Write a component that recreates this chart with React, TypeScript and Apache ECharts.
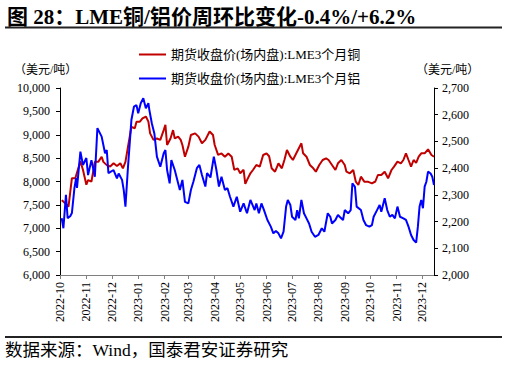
import React, { useEffect, useRef } from "react";
import * as echarts from "echarts";

const titleText = "图 28：LME铜/铝价周环比变化-0.4%/+6.2%";
const sourceText = "数据来源：Wind，国泰君安证券研究";
const unitText = "（美元/吨）";
const copperName = "期货收盘价(场内盘):LME3个月铜";
const aluminumName = "期货收盘价(场内盘):LME3个月铝";

const axisStart = "2022-10-01";
const axisEnd = "2023-12-15";

const copperDates = [
  "2022-10-03", "2022-10-05", "2022-10-11", "2022-10-15", "2022-10-19", "2022-10-25", "2022-10-28",
  "2022-11-01", "2022-11-03", "2022-11-07", "2022-11-11", "2022-11-15", "2022-11-19", "2022-11-21",
  "2022-11-25", "2022-11-29", "2022-12-03", "2022-12-07", "2022-12-11", "2022-12-14", "2022-12-17",
  "2022-12-20", "2022-12-24", "2022-12-28", "2022-12-30", "2023-01-03", "2023-01-06", "2023-01-10",
  "2023-01-13", "2023-01-15", "2023-01-19", "2023-01-23", "2023-01-27", "2023-01-31", "2023-02-02",
  "2023-02-04", "2023-02-08", "2023-02-11", "2023-02-13", "2023-02-17", "2023-02-20", "2023-02-22",
  "2023-02-25", "2023-03-01", "2023-03-04", "2023-03-09", "2023-03-13", "2023-03-17", "2023-03-21",
  "2023-03-26", "2023-03-30", "2023-04-01", "2023-04-05", "2023-04-09", "2023-04-13", "2023-04-17",
  "2023-04-21", "2023-04-24", "2023-04-28", "2023-05-01", "2023-05-05", "2023-05-07", "2023-05-09",
  "2023-05-13", "2023-05-16", "2023-05-20", "2023-05-24", "2023-05-28", "2023-06-01", "2023-06-04",
  "2023-06-07", "2023-06-11", "2023-06-15", "2023-06-19", "2023-06-22", "2023-06-25", "2023-06-29",
  "2023-07-02", "2023-07-06", "2023-07-09", "2023-07-12", "2023-07-14", "2023-07-18", "2023-07-22",
  "2023-07-26", "2023-07-29", "2023-08-02", "2023-08-06", "2023-08-10", "2023-08-13", "2023-08-17",
  "2023-08-21", "2023-08-24", "2023-08-28", "2023-09-01", "2023-09-03", "2023-09-07", "2023-09-11",
  "2023-09-14", "2023-09-17", "2023-09-20", "2023-09-24", "2023-09-28", "2023-10-03", "2023-10-07",
  "2023-10-10", "2023-10-14", "2023-10-18", "2023-10-22", "2023-10-26", "2023-10-29", "2023-11-02",
  "2023-11-06", "2023-11-09", "2023-11-12", "2023-11-15", "2023-11-18", "2023-11-21", "2023-11-24",
  "2023-11-27", "2023-11-30", "2023-12-04", "2023-12-08", "2023-12-12", "2023-12-15",
];
const copperValues = [
  7600, 7570, 7460, 8070, 8070, 8430, 8250,
  7930, 8030, 8000, 8420, 8420, 8530, 8420,
  8350, 8320, 8390, 8330, 8390, 8280, 8420,
  8745, 9170, 9140, 9280, 9280, 9350, 9390,
  9280, 9030, 8890, 8920, 8890, 9100, 9210,
  8780, 8920, 9100, 8920, 8960, 8890, 8780,
  8530, 8745, 8995, 9030, 8960, 8820, 8890,
  9070, 8995, 8780, 8570, 8600, 8530, 8600,
  8530, 8250, 8280, 8175, 8250, 7950, 8030,
  8175, 8246, 8353, 8318, 8567, 8603, 8540,
  8282, 8210, 8389, 8282, 8460, 8674, 8530,
  8460, 8603, 8710, 8817, 8603, 8530, 8353,
  8282, 8210, 8353, 8460, 8496, 8460, 8353,
  8246, 8389, 8460, 8353, 8210, 8175, 8246,
  7996, 7925, 8103, 7996, 7996, 7960, 8000,
  8139, 8139, 8210, 8068, 8246, 8318, 8424,
  8389, 8460, 8603, 8460, 8318, 8460, 8400,
  8530, 8603, 8603, 8688, 8567, 8530,
];

const aluminumDates = [
  "2022-10-03", "2022-10-05", "2022-10-08", "2022-10-10", "2022-10-13", "2022-10-15", "2022-10-18",
  "2022-10-20", "2022-10-21", "2022-10-25", "2022-10-28", "2022-11-01", "2022-11-03", "2022-11-07",
  "2022-11-11", "2022-11-14", "2022-11-19", "2022-11-23", "2022-11-25", "2022-11-27", "2022-12-03",
  "2022-12-07", "2022-12-09", "2022-12-13", "2022-12-15", "2022-12-17", "2022-12-20", "2022-12-24",
  "2022-12-27", "2022-12-30", "2023-01-01", "2023-01-04", "2023-01-07", "2023-01-10", "2023-01-13",
  "2023-01-14", "2023-01-17", "2023-01-20", "2023-01-23", "2023-01-27", "2023-01-31", "2023-02-02",
  "2023-02-04", "2023-02-07", "2023-02-09", "2023-02-13", "2023-02-16", "2023-02-19", "2023-02-22",
  "2023-02-25", "2023-03-01", "2023-03-04", "2023-03-07", "2023-03-11", "2023-03-14", "2023-03-17",
  "2023-03-21", "2023-03-23", "2023-03-27", "2023-03-31", "2023-04-03", "2023-04-06", "2023-04-09",
  "2023-04-13", "2023-04-16", "2023-04-19", "2023-04-23", "2023-04-27", "2023-05-01", "2023-05-05",
  "2023-05-09", "2023-05-13", "2023-05-18", "2023-05-20", "2023-05-23", "2023-05-26", "2023-05-29",
  "2023-06-02", "2023-06-06", "2023-06-09", "2023-06-12", "2023-06-15", "2023-06-18", "2023-06-21",
  "2023-06-24", "2023-06-26", "2023-06-29", "2023-07-01", "2023-07-05", "2023-07-07", "2023-07-09",
  "2023-07-12", "2023-07-15", "2023-07-18", "2023-07-21", "2023-07-24", "2023-07-28", "2023-08-01",
  "2023-08-05", "2023-08-08", "2023-08-12", "2023-08-15", "2023-08-17", "2023-08-21", "2023-08-24",
  "2023-08-26", "2023-08-30", "2023-09-01", "2023-09-05", "2023-09-08", "2023-09-10", "2023-09-13",
  "2023-09-15", "2023-09-20", "2023-09-23", "2023-09-26", "2023-09-30", "2023-10-03", "2023-10-05",
  "2023-10-09", "2023-10-12", "2023-10-14", "2023-10-18", "2023-10-21", "2023-10-24", "2023-10-27",
  "2023-10-30", "2023-11-02", "2023-11-05", "2023-11-09", "2023-11-12", "2023-11-15", "2023-11-18",
  "2023-11-21", "2023-11-24", "2023-11-26", "2023-11-28", "2023-11-30", "2023-12-02", "2023-12-04",
  "2023-12-06", "2023-12-08", "2023-12-11", "2023-12-13", "2023-12-15",
];
const aluminumValues = [
  2213, 2175, 2300, 2213, 2220, 2232, 2326,
  2363, 2326, 2462, 2412, 2438, 2374, 2430,
  2368, 2550, 2518, 2456, 2468, 2381, 2393,
  2362, 2380, 2356, 2318, 2256, 2405, 2580,
  2630, 2636, 2605, 2643, 2662, 2624, 2643,
  2620, 2568, 2530, 2443, 2405, 2456, 2468,
  2393, 2343, 2430, 2393, 2356, 2318, 2356,
  2274, 2268, 2318, 2350, 2400, 2412, 2374,
  2331, 2381, 2365, 2443, 2393, 2331, 2368,
  2318, 2325, 2293, 2256, 2293, 2237, 2268,
  2231, 2281, 2243, 2268, 2231, 2268, 2243,
  2206, 2181, 2156, 2165, 2156, 2137, 2162,
  2256, 2281, 2262, 2218, 2206, 2243, 2212,
  2281, 2231, 2212, 2193, 2162, 2143, 2150,
  2175, 2162, 2231, 2218, 2193, 2206, 2225,
  2218, 2206, 2243, 2231, 2243, 2343, 2330,
  2256, 2243, 2206, 2187, 2181, 2187, 2218,
  2243, 2262, 2237, 2287, 2243, 2218, 2225,
  2212, 2256, 2218, 2212, 2206, 2181, 2150,
  2131, 2121, 2180, 2256, 2281, 2250, 2331,
  2349, 2387, 2380, 2368, 2337,
];

const leftMin = 6000;
const leftMax = 10000;
const leftStep = 500;
const rightMin = 2000;
const rightMax = 2700;
const rightStep = 100;

const RED = "#c00000";
const BLUE = "#0000ff";
const SERIF = '"Times New Roman", "Liberation Serif", "Noto Sans CJK SC", serif';

function buildDays(start: string, end: string): string[] {
  const out: string[] = [];
  const d = new Date(start + "T00:00:00Z");
  const e = new Date(end + "T00:00:00Z");
  while (d.getTime() <= e.getTime()) {
    out.push(d.toISOString().slice(0, 10));
    d.setUTCDate(d.getUTCDate() + 1);
  }
  return out;
}

export default function App() {
  const ref = useRef<HTMLDivElement>(null);

  useEffect(() => {
    if (!ref.current) return;
    const chart = echarts.init(ref.current, undefined, { renderer: "svg" });
    const days = buildDays(axisStart, axisEnd);
    const idx: Record<string, number> = {};
    days.forEach((d, i) => (idx[d] = i));
    const copperData = copperDates.map((d, i) => [idx[d], copperValues[i]]);
    const aluminumData = aluminumDates.map((d, i) => [idx[d], aluminumValues[i]]);
    const isMonthStart = (_i: number, v: string) => v.endsWith("-01");

    chart.setOption({
      animation: false,
      backgroundColor: "#ffffff",
      textStyle: { fontFamily: SERIF },
      grid: { left: 60, right: 73, top: 88, bottom: 93, containLabel: false },
      legend: {
        orient: "vertical",
        left: 134,
        top: 43,
        itemWidth: 27,
        itemHeight: 2,
        itemGap: 11,
        icon: "rect",
        textStyle: { fontFamily: SERIF, fontSize: 13, color: "#000" },
        data: [copperName, aluminumName],
      },
      xAxis: {
        type: "category",
        data: days,
        boundaryGap: false,
        axisLine: { lineStyle: { color: "#808080", width: 1 } },
        axisTick: { interval: isMonthStart, length: 4, lineStyle: { color: "#808080" } },
        axisLabel: {
          interval: isMonthStart,
          rotate: 90,
          margin: 7,
          fontSize: 12,
          color: "#000",
          fontFamily: SERIF,
          formatter: (v: string) => v.slice(0, 7),
        },
        splitLine: { show: false },
      },
      yAxis: [
        {
          type: "value",
          min: leftMin,
          max: leftMax,
          interval: leftStep,
          axisLine: { show: true, lineStyle: { color: "#000", width: 1 } },
          axisTick: { show: true, length: 4, lineStyle: { color: "#000" } },
          axisLabel: {
            fontSize: 12,
            color: "#000",
            margin: 10,
            fontFamily: SERIF,
            formatter: (v: number) => v.toLocaleString("en-US"),
          },
          splitLine: { show: false },
        },
        {
          type: "value",
          min: rightMin,
          max: rightMax,
          interval: rightStep,
          position: "right",
          axisLine: { show: true, lineStyle: { color: "#000", width: 1 } },
          axisTick: { show: true, length: 4, lineStyle: { color: "#000" } },
          axisLabel: {
            fontSize: 12,
            color: "#000",
            margin: 8,
            fontFamily: SERIF,
            formatter: (v: number) => v.toLocaleString("en-US"),
          },
          splitLine: { show: false },
        },
      ],
      series: [
        {
          name: copperName,
          type: "line",
          yAxisIndex: 0,
          data: copperData,
          showSymbol: false,
          connectNulls: true,
          lineStyle: { color: RED, width: 2 },
          itemStyle: { color: RED },
        },
        {
          name: aluminumName,
          type: "line",
          yAxisIndex: 1,
          data: aluminumData,
          showSymbol: false,
          connectNulls: true,
          lineStyle: { color: BLUE, width: 2 },
          itemStyle: { color: BLUE },
        },
      ],
      graphic: [
        {
          type: "text",
          x: 7,
          y: 16.5,
          style: {
            text: titleText,
            font: `bold 21px ${SERIF}`,
            fill: "#000",
            textVerticalAlign: "middle",
            textAlign: "left",
          },
        },
        {
          type: "line",
          shape: { x1: 5, y1: 27.5, x2: 502, y2: 27.5 },
          style: { stroke: "#222", lineWidth: 2 },
        },
        {
          type: "text",
          x: 14,
          y: 70,
          style: { text: unitText, font: `12px ${SERIF}`, fill: "#000", textVerticalAlign: "middle" },
        },
        {
          type: "text",
          x: 416,
          y: 70,
          style: { text: unitText, font: `12px ${SERIF}`, fill: "#000", textVerticalAlign: "middle" },
        },
        {
          type: "line",
          shape: { x1: 5, y1: 337, x2: 502, y2: 337 },
          style: { stroke: "#222", lineWidth: 2 },
        },
        {
          type: "text",
          x: 5,
          y: 350,
          style: { text: sourceText, font: `17.5px ${SERIF}`, fill: "#000", textVerticalAlign: "middle" },
        },
      ],
    });
    return () => chart.dispose();
  }, []);

  return <div ref={ref} style={{ width: 507, height: 368, position: "absolute", left: 0, top: 0 }} />;
}
